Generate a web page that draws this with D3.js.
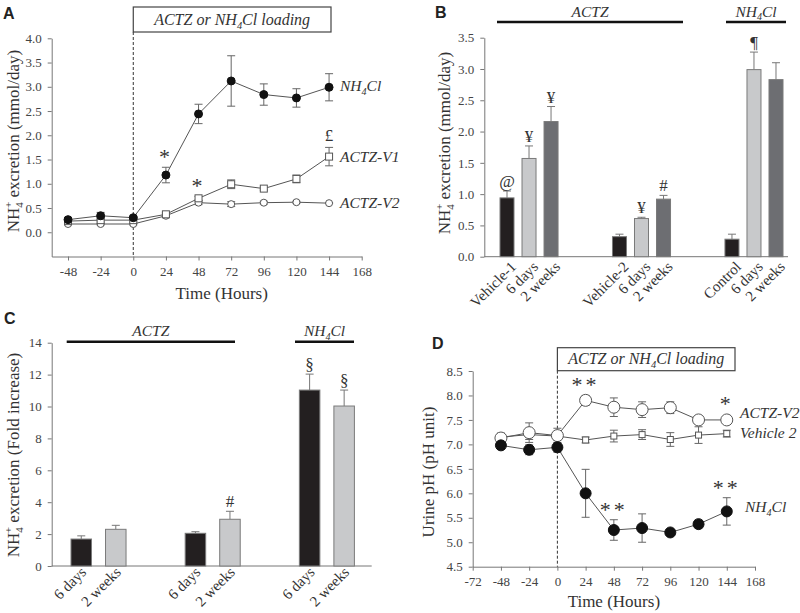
<!DOCTYPE html>
<html>
<head>
<meta charset="utf-8">
<script src="https://cdn.jsdelivr.net/npm/d3@7"></script>
<style>
  body { margin: 0; background: #fff; }
  svg { display: block; }
  text { font-family: "Liberation Serif", "Times New Roman", Times, serif; fill: #333; }
  .panel { font-family: "Liberation Sans", Arial, sans-serif; font-weight: bold; font-size: 16px; fill: #222; }
  .axis path, .axis line { stroke: #777; }
  .axis text { font-family: "Liberation Serif", "Times New Roman", serif; font-size: 13px; fill: #444; }
</style>
</head>
<body>
<div id="container"></div>
<script>
// time points (hours) for panels A and D
var hours = [-48, -24, 0, 24, 48, 72, 96, 120, 144];

// panel A: NH4+ excretion (mmol/day)
var aNH4Cl    = [0.26, 0.34, 0.30, 1.18, 2.44, 3.12, 2.84, 2.77, 2.99];
var aNH4ClErr = [0.03, 0.07, 0.03, 0.16, 0.20, 0.52, 0.22, 0.19, 0.28];
var aV1       = [0.23, 0.25, 0.25, 0.37, 0.70, 0.99, 0.90, 1.10, 1.56];
var aV1Err    = [0.02, 0.02, 0.02, 0.03, 0.04, 0.09, 0.03, 0.08, 0.19];
var aV2       = [0.17, 0.17, 0.17, 0.34, 0.61, 0.58, 0.61, 0.62, 0.60];
var aV2Err    = [0.02, 0.02, 0.02, 0.03, 0.04, 0.05, 0.03, 0.02, 0.01];

// panel D: urine pH
var dV2       = [7.13, 7.24, 7.18, 7.90, 7.76, 7.71, 7.75, 7.50, 7.50];
var dV2Err    = [0.10, 0.20, 0.15, 0.10, 0.19, 0.16, 0.12, 0.08, 0.00];
var dVeh      = [7.15, 7.20, 7.17, 7.09, 7.17, 7.20, 7.10, 7.19, 7.22];
var dVehErr   = [0.07, 0.10, 0.08, 0.06, 0.12, 0.10, 0.14, 0.17, 0.07];
var dNH4Cl    = [6.98, 6.89, 6.94, 6.00, 5.25, 5.29, 5.20, 5.37, 5.63];
var dNH4ClErr = [0.06, 0.10, 0.10, 0.49, 0.21, 0.29, 0.03, 0.08, 0.28];

// panel B: bars
var bGroups = ["ACTZ-V1", "ACTZ-V2", "NH4Cl"];
var bLabels = [["Vehicle-1", "6 days", "2 weeks"], ["Vehicle-2", "6 days", "2 weeks"], ["Control", "6 days", "2 weeks"]];
var bValues = [[0.94, 1.57, 2.16], [0.32, 0.61, 0.92], [0.28, 2.99, 2.83]];
var bErr    = [[0.11, 0.20, 0.24], [0.04, 0.02, 0.06], [0.08, 0.28, 0.27]];
var bMarks  = [["@", "\u00a5", "\u00a5"], ["", "\u00a5", "#"], ["", "\u00b6", ""]];

// panel C: fold increase
var cGroups = ["ACTZ-V1", "ACTZ-V2", "NH4Cl"];
var cLabels = ["6 days", "2 weeks"];
var cValues = [[1.69, 2.30], [2.05, 2.93], [11.03, 10.03]];
var cErr    = [[0.20, 0.25], [0.10, 0.50], [1.00, 1.00]];
var cMarks  = [["", ""], ["", "#"], ["\u00a7", "\u00a7"]];

var barFill = ["#231f20", "#c8c9cb", "#6d6e72"];
var lineCol = "#555";
var plain = function(d) { return String(d); };  // keep ascii hyphen for negatives

var svg = d3.select("div#container")
  .append("svg")
  .attr("width", 800)
  .attr("height", 613);

// ---------- helpers ----------
function nh4(sel, size) {
  // NH4+ with stacked sub/superscript
  sel.append("tspan").text("NH");
  sel.append("tspan").attr("font-size", size * 0.65).attr("dy", size * 0.25).text("4");
  sel.append("tspan").attr("font-size", size * 0.65).attr("dx", -size * 0.35).attr("dy", -size * 0.65).text("+");
  sel.append("tspan").attr("dy", size * 0.4).text(" ");
}
function nh4cl(sel, size) {
  sel.append("tspan").text("NH");
  sel.append("tspan").attr("font-size", size * 0.65).attr("dy", size * 0.25).text("4");
  sel.append("tspan").attr("dy", -size * 0.25).text("Cl");
}
// significance mark above an error bar top (pixel y)
function mark(g, x, errTop, t, dy) {
  if (!t) return;
  var star = t.indexOf("*") >= 0;
  g.append("text")
    .attr("x", x).attr("y", errTop - (star ? 3 : 4) + (dy || 0))
    .attr("text-anchor", "middle")
    .attr("font-size", star ? 22 : 17)
    .attr("letter-spacing", star ? 3 : 0)
    .attr("fill", "#222")
    .text(t);
}
function yTitle(x, y, build) {
  var t = svg.append("text")
    .attr("transform", "translate(" + x + "," + y + ") rotate(-90)")
    .attr("text-anchor", "middle")
    .attr("font-size", 17)
    .attr("fill", "#333");
  build(t);
}

// ---------- line panels ----------
function linePanel(x, y, series, opts) {
  var g = svg.append("g");

  g.append("g").attr("class", "axis")
    .attr("transform", "translate(0," + y.range()[0] + ")")
    .call(d3.axisBottom(x).tickValues(opts.xticks).tickFormat(plain).tickSize(4).tickSizeOuter(0).tickPadding(6));
  g.append("g").attr("class", "axis")
    .attr("transform", "translate(" + x.range()[0] + ",0)")
    .call(d3.axisLeft(y).tickValues(opts.yticks).tickFormat(d3.format(".1f")).tickSize(4).tickSizeOuter(0).tickPadding(6));

  // loading box and dashed line at time 0
  g.append("line")
    .attr("x1", x(0)).attr("x2", x(0))
    .attr("y1", opts.box[3]).attr("y2", y.range()[0])
    .attr("stroke", "#333").attr("stroke-dasharray", "3,2");
  g.append("rect")
    .attr("x", x(0)).attr("y", opts.box[1])
    .attr("width", opts.box[2] - x(0)).attr("height", opts.box[3] - opts.box[1])
    .attr("fill", "#fff").attr("stroke", "#444").attr("stroke-width", 1.2);
  var bt = g.append("text")
    .attr("x", (x(0) + opts.box[2]) / 2).attr("y", opts.box[3] - 7)
    .attr("text-anchor", "middle").attr("font-size", 16).attr("font-style", "italic").attr("fill", "#222");
  bt.append("tspan").text("ACTZ or ");
  nh4cl(bt, 16);
  bt.append("tspan").text(" loading");

  series.forEach(function(s) {
    var pts = hours.map(function(h, i) { return { h: h, v: s.values[i], e: s.err[i] }; });
    var line = d3.line().x(function(d) { return x(d.h); }).y(function(d) { return y(d.v); });
    g.append("path").attr("d", line(pts)).attr("fill", "none").attr("stroke", lineCol).attr("stroke-width", 1);

    var eb = g.append("g").attr("stroke", "#666").attr("stroke-width", 1);
    pts.forEach(function(d) {
      if (d.e <= 0) return;
      eb.append("line").attr("x1", x(d.h)).attr("x2", x(d.h)).attr("y1", y(d.v - d.e)).attr("y2", y(d.v + d.e));
      [d.v - d.e, d.v + d.e].forEach(function(v) {
        eb.append("line").attr("x1", x(d.h) - 4).attr("x2", x(d.h) + 4).attr("y1", y(v)).attr("y2", y(v));
      });
    });

    pts.forEach(function(d) {
      if (s.shape === "square") {
        g.append("rect")
          .attr("x", x(d.h) - s.size / 2).attr("y", y(d.v) - s.size / 2)
          .attr("width", s.size).attr("height", s.size)
          .attr("fill", "#fff").attr("stroke", "#555").attr("stroke-width", 1);
      } else {
        g.append("circle")
          .attr("cx", x(d.h)).attr("cy", y(d.v)).attr("r", s.size)
          .attr("fill", s.filled ? "#111" : "#fff").attr("stroke", s.filled ? "#111" : "#555").attr("stroke-width", 1);
      }
    });

    (s.marks || []).forEach(function(m) {
      var i = hours.indexOf(m.h);
      mark(g, x(m.h), y(s.values[i] + s.err[i]), m.t, m.dy);
    });

    var lt = g.append("text")
      .attr("x", s.lx).attr("y", s.ly)
      .attr("font-size", 15.5).attr("font-style", "italic").attr("fill", "#222");
    if (s.name === "NH4Cl") nh4cl(lt, 15.5); else lt.text(s.name);
  });

  g.append("text")
    .attr("x", (x.range()[0] + x.range()[1]) / 2 + opts.titleShift)
    .attr("y", opts.titleY)
    .attr("text-anchor", "middle").attr("font-size", 17).attr("fill", "#333")
    .text("Time (Hours)");
}

// ---------- panel A ----------
var xA = d3.scaleLinear().domain([-60, 168]).range([51.7, 361.7]);
var yA = d3.scaleLinear().domain([-0.5, 4]).range([256.5, 38.3]);
linePanel(xA, yA, [
  { name: "ACTZ-V2", values: aV2, err: aV2Err, shape: "circle", size: 3.5, filled: false, lx: 340, ly: 208 },
  { name: "ACTZ-V1", values: aV1, err: aV1Err, shape: "square", size: 7, lx: 340, ly: 162,
    marks: [{ h: 48, t: "*" }, { h: 144, t: "\u00a3", dy: -2 }] },
  { name: "NH4Cl", values: aNH4Cl, err: aNH4ClErr, shape: "circle", size: 4, filled: true, lx: 340, ly: 91,
    marks: [{ h: 24, t: "*" }] }
], { xticks: d3.range(-48, 169, 24), yticks: d3.range(0, 4.01, 0.5), box: [0, 7, 331, 32], titleY: 299, titleShift: 15 });

// ---------- panel D ----------
var xD = d3.scaleLinear().domain([-72, 168]).range([472.7, 755]);
var yD = d3.scaleLinear().domain([4.5, 8.5]).range([566.7, 371]);
linePanel(xD, yD, [
  { name: "Vehicle 2", values: dVeh, err: dVehErr, shape: "square", size: 6, lx: 740, ly: 438 },
  { name: "ACTZ-V2", values: dV2, err: dV2Err, shape: "circle", size: 6, filled: false, lx: 740, ly: 418,
    marks: [{ h: 24, t: "**" }, { h: 144, t: "*", dy: -6 }] },
  { name: "NH4Cl", values: dNH4Cl, err: dNH4ClErr, shape: "circle", size: 5.5, filled: true, lx: 745, ly: 512,
    marks: [{ h: 48, t: "**" }, { h: 144, t: "**" }] }
], { xticks: d3.range(-72, 169, 24), yticks: d3.range(4.5, 8.51, 0.5), box: [0, 347.7, 735, 370.7], titleY: 607, titleShift: 0 });

// ---------- bar panels ----------
function barPanel(opts) {
  var g = svg.append("g");
  var y = opts.y;
  var outer = d3.scaleBand().domain(opts.groups).range(opts.groupRange).paddingInner(opts.padOuter).paddingOuter(0);
  var inner = d3.scaleBand().domain(d3.range(opts.values[0].length)).range([0, outer.bandwidth()]).paddingInner(opts.padInner).paddingOuter(0);

  g.append("line")
    .attr("x1", opts.axisX).attr("x2", opts.axisEnd)
    .attr("y1", y.range()[0]).attr("y2", y.range()[0])
    .attr("stroke", "#777");
  g.append("g").attr("class", "axis")
    .attr("transform", "translate(" + opts.axisX + ",0)")
    .call(d3.axisLeft(y).tickValues(opts.yticks).tickFormat(opts.fmt).tickSize(4).tickSizeOuter(0).tickPadding(6));

  opts.groups.forEach(function(gr, gi) {
    var x0 = outer(gr);
    opts.values[gi].forEach(function(v, bi) {
      var bx = x0 + inner(bi), bw = inner.bandwidth(), cx = bx + bw / 2;
      var e = opts.err[gi][bi];
      g.append("line")
        .attr("x1", cx).attr("x2", cx).attr("y1", y(v)).attr("y2", y(v + e))
        .attr("stroke", "#777");
      g.append("line")
        .attr("x1", cx - 4).attr("x2", cx + 4).attr("y1", y(v + e)).attr("y2", y(v + e))
        .attr("stroke", "#777");
      g.append("rect")
        .attr("x", bx).attr("y", y(v)).attr("width", bw).attr("height", y(0) - y(v))
        .attr("fill", barFill[bi]).attr("stroke", "#7a7a7a").attr("stroke-width", 1);
      mark(g, cx, y(v + e), opts.marks[gi][bi]);
      var lab = typeof opts.labels[0] === "string" ? opts.labels[bi] : opts.labels[gi][bi];
      g.append("text")
        .attr("transform", "translate(" + (cx + opts.lab[0]) + "," + (y(0) + opts.lab[1]) + ") rotate(-45)")
        .attr("text-anchor", "end")
        .attr("font-size", 15).attr("fill", "#333")
        .text(lab);
    });
  });

  // treatment headers with rules
  opts.headers.forEach(function(h) {
    g.append("line")
      .attr("x1", h.x1).attr("x2", h.x2).attr("y1", h.y).attr("y2", h.y)
      .attr("stroke", "#111").attr("stroke-width", 2.5);
    var t = g.append("text")
      .attr("x", (h.x1 + h.x2) / 2).attr("y", h.y - 5.5)
      .attr("text-anchor", "middle").attr("font-size", 15.5).attr("font-style", "italic").attr("fill", "#222");
    if (h.name === "NH4Cl") nh4cl(t, 15.5); else t.text(h.name);
  });
}

barPanel({
  groups: bGroups, labels: bLabels, values: bValues, err: bErr, marks: bMarks,
  y: d3.scaleLinear().domain([0, 3.5]).range([256.7, 37.7]),
  yticks: d3.range(0, 3.51, 0.5), fmt: d3.format(".1f"),
  groupRange: [500, 783], padOuter: 0.484, padInner: 0.364,
  axisX: 484.3, axisEnd: 788, lab: [10, 11],
  headers: [{ name: "ACTZ", x1: 497, x2: 683, y: 22 }, { name: "NH4Cl", x1: 726, x2: 786, y: 22 }]
});

barPanel({
  groups: cGroups, labels: cLabels, values: cValues, err: cErr, marks: cMarks,
  y: d3.scaleLinear().domain([0, 14]).range([566, 342.7]),
  yticks: d3.range(0, 14.1, 2), fmt: d3.format("d"),
  groupRange: [71, 354.4], padOuter: 0.518, padInner: 0.406,
  axisX: 51.7, axisEnd: 371.7, lab: [6, 7],
  headers: [{ name: "ACTZ", x1: 66.7, x2: 235, y: 341.7 }, { name: "NH4Cl", x1: 295, x2: 354, y: 341.7 }]
});

// ---------- y-axis titles ----------
yTitle(19, 141, function(t) { nh4(t, 17); t.append("tspan").text("excretion (mmol/day)"); });
yTitle(450, 143, function(t) { nh4(t, 17); t.append("tspan").text("excretion (mmol/day)"); });
yTitle(19, 455, function(t) { nh4(t, 17); t.append("tspan").text("excretion (Fold increase)"); });
yTitle(434, 472, function(t) { t.text("Urine pH (pH unit)"); });

// ---------- panel letters ----------
[["A", 3, 19], ["B", 435, 18], ["C", 4, 324], ["D", 432, 349]].forEach(function(p) {
  svg.append("text").attr("class", "panel").attr("x", p[1]).attr("y", p[2]).text(p[0]);
});
</script>
</body>
</html>
